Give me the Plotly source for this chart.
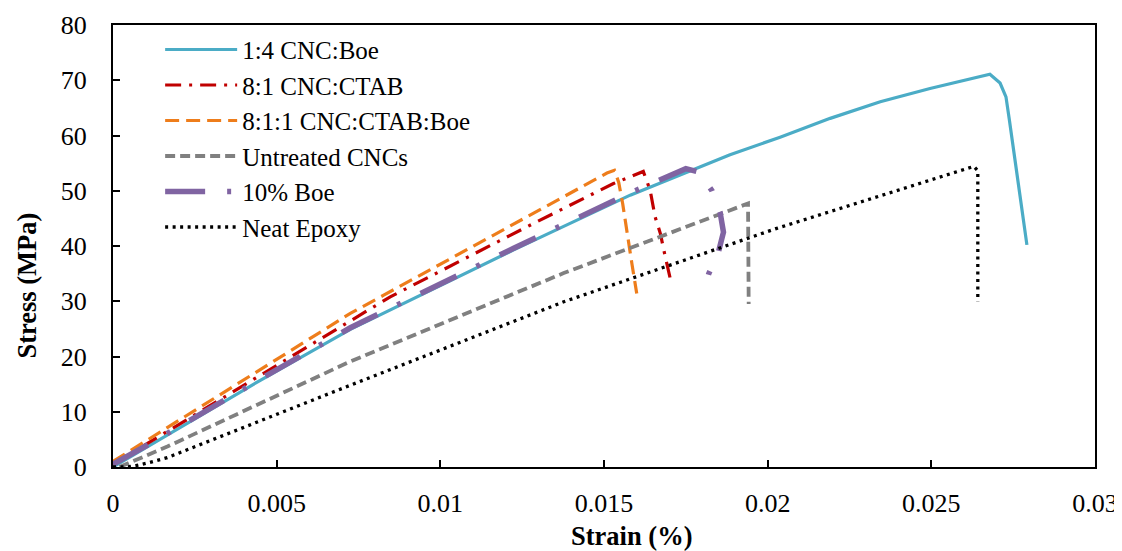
import plotly.graph_objects as go

# ---- data ----
strain_boe14 = [0, 0.0045, 0.00725, 0.01224, 0.0158, 0.01885, 0.02038, 0.02191, 0.02344, 0.02496, 0.02679, 0.0271, 0.02728, 0.02738, 0.02792]
stress_boe14 = [0, 15.7, 24.9, 39.3, 49.2, 56.5, 59.7, 63.1, 66.1, 68.5, 71.1, 69.5, 67.0, 63.0, 40.2]

strain_ctab = [0, 0.00613, 0.00847, 0.01295, 0.01529, 0.0162, 0.01641, 0.01656, 0.01672, 0.01687, 0.01707]
stress_ctab = [0.5, 22.4, 30.8, 44.4, 51.3, 53.5, 50.1, 45.3, 42.3, 38.1, 32.9]

strain_ctab_boe = [0, 0.00725, 0.00827, 0.01509, 0.01532, 0.01545, 0.01557, 0.0157, 0.01585, 0.016]
stress_ctab_boe = [1.0, 27.8, 31.1, 53.2, 53.7, 51.5, 47.7, 42.3, 36.9, 31.4]

strain_untreated = [0.0002, 0.00166, 0.00725, 0.01377, 0.0194, 0.01942]
stress_untreated = [0, 3.7, 19.1, 35.1, 47.7, 29.5]

strain_boe10 = [0, 0.00115, 0.0045, 0.00725, 0.01224, 0.0158, 0.0175, 0.0179, 0.0183, 0.01855, 0.01865, 0.0185, 0.0182, 0.01805]
stress_boe10 = [0.5, 4.3, 15.9, 25.2, 39.6, 49.6, 54.0, 53.4, 50.0, 46.0, 42.5, 39.0, 35.0, 32.0]

strain_neat = [0, 0.00045, 0.0007, 0.00104, 0.00166, 0.00725, 0.01377, 0.02028, 0.0263, 0.02642, 0.02642]
stress_neat = [0, 0, 0.25, 0.7, 1.7, 14.8, 29.9, 43.2, 54.4, 53.6, 29.9]

names = ["1:4 CNC:Boe", "8:1 CNC:CTAB", "8:1:1 CNC:CTAB:Boe", "Untreated CNCs", "10% Boe", "Neat Epoxy"]
x_ticks = [0, 0.005, 0.01, 0.015, 0.02, 0.025, 0.03]
x_tick_text = ["0", "0.005", "0.01", "0.015", "0.02", "0.025", "0.03"]
y_ticks = [0, 10, 20, 30, 40, 50, 60, 70, 80]

series = [
    (strain_boe14, stress_boe14, "#4BACC6", 3.2, "solid"),
    (strain_ctab, stress_ctab, "#C00000", 3.2, "16px,8px,3px,8px"),
    (strain_ctab_boe, stress_ctab_boe, "#EE7D1B", 3.2, "14px,7px"),
    (strain_untreated, stress_untreated, "#808080", 3.8, "10px,5px"),
    (strain_boe10, stress_boe10, "#8064A2", 5.5, "40px,22px,4px,22px"),
    (strain_neat, stress_neat, "#000000", 3.3, "3px,4.5px"),
]

FONT = "Liberation Serif, Times New Roman, serif"

fig = go.Figure()
for i, (xs, ys, col, w, dash) in enumerate(series):
    fig.add_trace(go.Scatter(
        x=xs, y=ys, mode="lines", name=names[i], legendgroup=str(i),
        line=dict(color=col, width=w, dash=dash),
    ))

axis_common = dict(
    showgrid=False, zeroline=False, showline=True, linecolor="black", linewidth=2,
    mirror=True, ticks="inside", ticklen=7, tickwidth=2, tickcolor="black",
    automargin=False,
    tickfont=dict(family=FONT, size=26, color="black"),
)

# page body has an 8px margin, so the figure is sized to fit the window
fig.update_layout(
    width=1114, height=543,
    margin=dict(l=104.5, r=27, t=17, b=84),
    paper_bgcolor="white", plot_bgcolor="white",
    font=dict(family=FONT, size=26, color="black"),
    xaxis=dict(range=[0, 0.03], tickvals=x_ticks, ticktext=x_tick_text, ticklabelstandoff=12, **axis_common),
    yaxis=dict(range=[0, 80], tickvals=y_ticks, ticklabelstandoff=19, **axis_common),
    showlegend=True,
    legend=dict(
        x=0.048, y=0.996, xanchor="left", yanchor="top",
        bgcolor="rgba(255,255,255,0)", borderwidth=0,
        font=dict(family=FONT, size=25, color="black"),
        itemwidth=72, traceorder="normal", tracegroupgap=0,
    ),
    annotations=[
        dict(text="<b>Strain (%)</b>", xref="paper", yref="paper", x=0.5277, y=-0.1561,
             xanchor="center", yanchor="middle", showarrow=False,
             font=dict(family=FONT, size=26.5, color="black")),
        dict(text="<b>Stress (MPa)</b>", xref="paper", yref="paper", x=-0.088, y=0.4095,
             xanchor="center", yanchor="middle", showarrow=False, textangle=-90,
             font=dict(family=FONT, size=26.5, color="black")),
    ],
)

fig.write_html("out.html")
